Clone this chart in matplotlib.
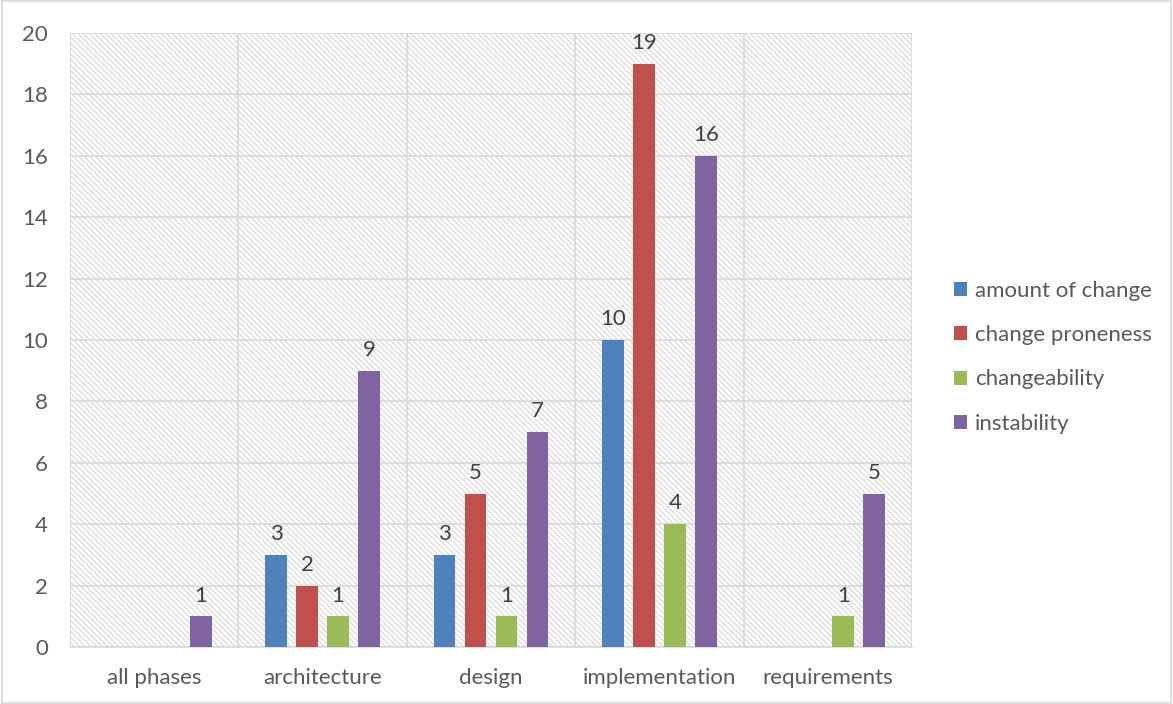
import numpy as np
import matplotlib.pyplot as plt
from matplotlib.patches import Rectangle

categories = ['all phases', 'architecture', 'design', 'implementation', 'requirements']
series_names = ['amount of change', 'change proneness', 'changeability', 'instability']
amount_of_change = [0, 3, 3, 10, 0]
change_proneness = [0, 2, 5, 19, 0]
changeability = [0, 1, 1, 4, 1]
instability = [1, 9, 7, 16, 5]
colors = ['#4f81bd', '#c0504d', '#9bbb59', '#8064a2']

plt.rcParams['font.family'] = ['Lato', 'DejaVu Sans']
plt.rcParams['hatch.linewidth'] = 0.9

fig = plt.figure(figsize=(11.73, 7.04), dpi=100)
ax = fig.add_axes([0.0597, 0.081, 0.7178, 0.872])

# hatched plot area
ax.add_patch(Rectangle((0, 0), 1, 1, transform=ax.transAxes, facecolor='white',
                       edgecolor='#dadada', linewidth=0, hatch='\\' * 6, zorder=0))

x = np.arange(len(categories))
values = [amount_of_change, change_proneness, changeability, instability]
width = 0.13
step = 0.184
for i, (name, vals, c) in enumerate(zip(series_names, values, colors)):
    pos = x + (i - 1.5) * step
    ax.bar(pos, vals, width, color=c, label=name, zorder=3)
    for p, v in zip(pos, vals):
        if v > 0:
            ax.text(p, v + 0.35, str(v), ha='center', va='bottom', fontsize=16, color='#404040', zorder=4)

ax.set_xlim(-0.5, len(categories) - 0.5)
ax.set_ylim(0, 20)
ax.set_yticks(range(0, 21, 2))
ax.set_xticks(x)
ax.set_xticklabels(categories)
ax.set_xticks(np.arange(-0.5, len(categories)), minor=True)
ax.grid(axis='y', which='major', color='#d9d9d9', linewidth=1.2, zorder=1)
ax.grid(axis='x', which='minor', color='#d9d9d9', linewidth=1.2, zorder=1)
ax.tick_params(axis='both', which='both', length=0, labelsize=16, colors='#595959')
ax.tick_params(axis='x', pad=15)
ax.tick_params(axis='y', pad=16)
for s in ['top', 'right', 'left']:
    ax.spines[s].set_visible(False)
ax.spines['bottom'].set_color('#d9d9d9')
ax.spines['bottom'].set_linewidth(1.2)

leg = ax.legend(loc='center left', bbox_to_anchor=(1.026, 0.472), frameon=False, fontsize=16,
                labelspacing=1.1, handlelength=0.6, handleheight=0.6, handletextpad=0.35)
for t in leg.get_texts():
    t.set_color('#595959')

fig.add_artist(Rectangle((0.002, 0.002), 0.996, 0.996, transform=fig.transFigure,
                         fill=False, edgecolor='#d9d9d9', linewidth=1.2))

fig.savefig('out.png', dpi=100)
